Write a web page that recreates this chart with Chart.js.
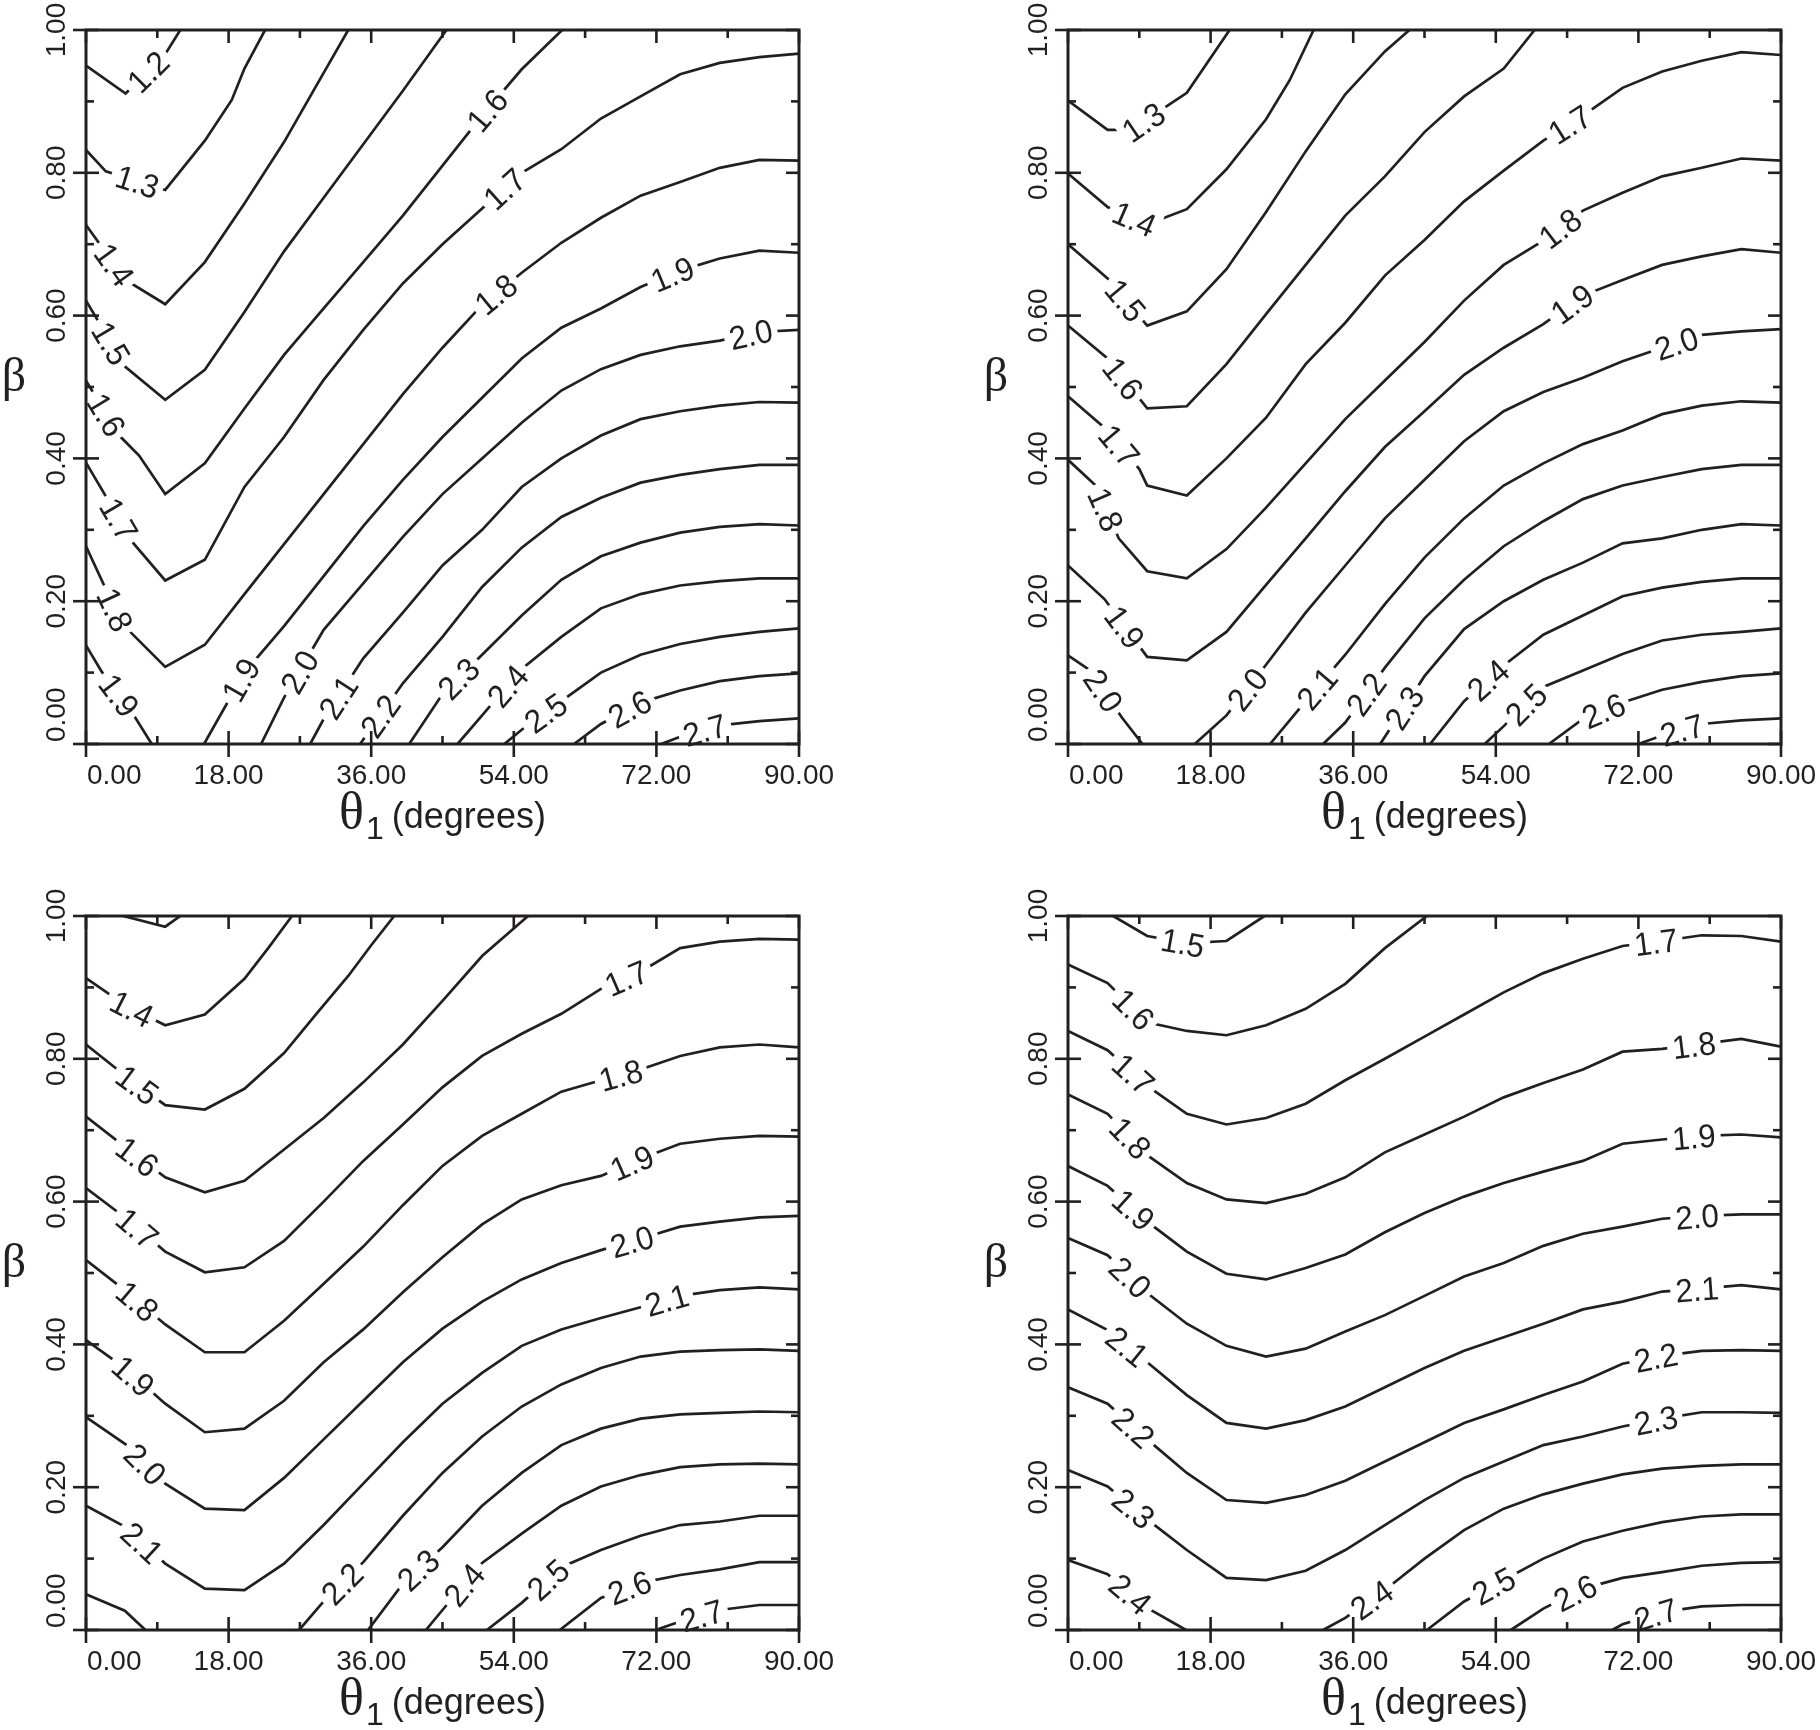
<!DOCTYPE html>
<html>
<head>
<meta charset="utf-8">
<script src="https://cdn.jsdelivr.net/npm/chart.js@4.4.1/dist/chart.umd.min.js"></script>
<style>
  body { margin: 0; background: #fff; width: 1820px; height: 1730px; position: relative; overflow: hidden; }
  canvas { position: absolute; }
</style>
</head>
<body>
<canvas id="tl" width="838" height="844" style="left:0;top:0"></canvas>
<canvas id="tr" width="838" height="844" style="left:982px;top:0"></canvas>
<canvas id="bl" width="838" height="844" style="left:0;top:886px"></canvas>
<canvas id="br" width="838" height="844" style="left:982px;top:886px"></canvas>
<script>
// axes
const xTicks = [0, 18, 36, 54, 72, 90];
const xTickLabels = ['0.00', '18.00', '36.00', '54.00', '72.00', '90.00'];
const xMinor = [9, 27, 45, 63, 81];
const yTicks = [0, 0.2, 0.4, 0.6, 0.8, 1.0];
const yTickLabels = ['0.00', '0.20', '0.40', '0.60', '0.80', '1.00'];
const yMinor = [0.1, 0.3, 0.5, 0.7, 0.9];

// contour lines: [theta1, beta] points; labels: [line index, theta1 where the label sits]
const tlLevels = ['1.2', '1.3', '1.4', '1.5', '1.6', '1.7', '1.8', '1.9', '1.9', '2.0', '2.1', '2.2', '2.3', '2.4', '2.5', '2.6', '2.7'];
const tlLines = [
  [[0, .95], [5, .911], [10, .966], [11.9, 1]],
  [[0, .832], [2.5, .802], [10, .776], [15, .845], [18.4, .902], [20, .946], [22.6, 1]],
  [[0, .727], [5, .65], [10, .616], [15, .675], [20, .757], [25, .843], [30, .94], [33.1, 1]],
  [[0, .621], [5, .528], [10, .482], [15, .524], [20, .605], [25, .69], [30, .765], [35, .84], [40, .915], [45.5, 1]],
  [[0, .509], [4.2, .432], [6.7, .404], [10, .35], [15, .393], [20, .47], [25, .545], [30, .61], [35, .675], [40, .74], [45, .81], [50, .88], [55, .945], [60.1, 1]],
  [[0, .394], [6, .281], [10, .229], [15, .258], [20, .36], [25, .43], [30, .51], [35, .58], [40, .645], [45, .70], [50, .75], [55, .80], [60, .833], [65, .876], [70, .907], [75, .938], [80, .954], [85, .962], [90, .967]],
  [[0, .277], [4.5, .169], [10, .108], [15, .139], [20, .21], [25, .28], [30, .35], [35, .42], [40, .49], [45, .555], [50, .615], [55, .66], [60, .702], [65, .737], [70, .768], [75, .787], [80, .807], [85, .818], [90, .817]],
  [[0, .138], [2, .101], [5.6, .048], [8.3, 0]],
  [[14.9, 0], [20, .10], [25, .165], [30, .235], [35, .305], [40, .37], [45, .43], [50, .485], [55, .54], [60, .583], [65, .61], [70, .64], [75, .663], [80, .68], [85, .691], [90, .688]],
  [[22.1, 0], [25, .065], [30, .16], [35, .225], [40, .29], [45, .35], [50, .40], [55, .45], [60, .495], [65, .525], [70, .545], [75, .557], [80, .565], [85, .577], [90, .58]],
  [[28.3, 0], [30, .035], [35, .12], [40, .184], [45, .25], [50, .30], [55, .36], [60, .40], [65, .432], [70, .455], [75, .466], [80, .474], [85, .479], [90, .478]],
  [[34.6, 0], [40, .085], [45, .15], [50, .22], [55, .275], [60, .318], [65, .345], [70, .366], [75, .377], [80, .385], [85, .391], [90, .391]],
  [[40.8, 0], [45, .07], [50, .125], [55, .18], [60, .23], [65, .263], [70, .282], [75, .296], [80, .304], [85, .308], [90, .306]],
  [[46.9, 0], [50, .04], [55, .105], [60, .15], [65, .19], [70, .21], [75, .222], [80, .228], [85, .232], [90, .232]],
  [[52.8, 0], [55, .02], [60, .06], [65, .10], [70, .125], [75, .14], [80, .15], [85, .157], [90, .162]],
  [[61.6, 0], [65, .028], [70, .058], [75, .075], [80, .088], [85, .095], [90, .099]],
  [[72.6, 0], [75, .01], [80, .026], [85, .032], [90, .036]]
];
const tlLabelAt = [[0, 7.8], [1, 6.5], [2, 3.6], [3, 3.2], [4, 2.6], [4, 50.6], [5, 4.2], [5, 52.8], [6, 3.7], [6, 51.7],
  [7, 4.2], [8, 19.5], [8, 74], [9, 26.9], [9, 83.9], [10, 31.8], [11, 37.1], [12, 47], [13, 53.2], [14, 58], [15, 68.6], [16, 78.1]];

const trLevels = ['1.3', '1.4', '1.5', '1.6', '1.7', '1.8', '1.9', '2.0', '2.0', '2.1', '2.2', '2.3', '2.4', '2.5', '2.6', '2.7'];
const trLines = [
  [[0, .901], [5, .86], [8, .86], [12, .89], [15, .912], [20.4, 1]],
  [[0, .799], [5, .752], [10, .728], [15, .749], [20, .805], [25, .875], [28, .93], [31, 1]],
  [[0, .70], [5, .652], [10, .586], [15, .606], [20, .665], [25, .745], [30, .83], [35, .91], [40, .97], [43.1, 1]],
  [[0, .586], [5, .54], [10, .47], [15, .473], [20, .532], [25, .602], [30, .671], [35, .74], [40, .795], [45, .857], [50, .907], [55, .946], [58.9, 1]],
  [[0, .487], [4.6, .443], [9, .385], [10, .362], [15, .348], [20, .40], [25, .457], [30, .532], [35, .59], [40, .656], [45, .706], [50, .76], [55, .803], [60, .845], [65, .88], [70, .919], [75, .942], [80, .957], [85, .969], [90, .965]],
  [[0, .398], [3.5, .362], [6.4, .288], [10, .242], [15, .232], [20, .273], [25, .331], [30, .393], [35, .455], [40, .509], [45, .563], [50, .621], [55, .671], [60, .705], [65, .747], [70, .772], [75, .795], [80, .807], [85, .82], [90, .817]],
  [[0, .25], [4.6, .203], [10, .122], [15, .117], [20, .157], [25, .223], [30, .288], [35, .354], [40, .416], [45, .466], [50, .517], [55, .555], [60, .588], [65, .628], [70, .65], [75, .671], [80, .683], [85, .693], [90, .688]],
  [[0, .124], [2.8, .103], [6.8, .037], [9.4, 0]],
  [[16, 0], [20, .04], [25, .111], [30, .184], [35, .25], [40, .316], [45, .37], [50, .424], [55, .466], [60, .493], [65, .513], [70, .536], [75, .555], [80, .573], [85, .578], [90, .581]],
  [[25.5, 0], [30, .06], [35, .125], [40, .196], [45, .261], [50, .316], [55, .362], [60, .393], [65, .42], [70, .439], [75, .462], [80, .474], [85, .48], [90, .478]],
  [[32.2, 0], [35, .03], [40, .107], [45, .176], [50, .23], [55, .277], [60, .312], [65, .343], [70, .362], [75, .374], [80, .385], [85, .391], [90, .391]],
  [[39.4, 0], [45, .095], [50, .161], [55, .2], [60, .23], [65, .254], [70, .281], [75, .288], [80, .30], [85, .308], [90, .306]],
  [[45.7, 0], [50, .06], [55, .11], [60, .153], [65, .18], [70, .207], [75, .219], [80, .227], [85, .232], [90, .232]],
  [[52.6, 0], [55, .025], [60, .08], [65, .103], [70, .126], [75, .145], [80, .153], [85, .157], [90, .162]],
  [[60.7, 0], [65, .035], [70, .058], [75, .076], [80, .087], [85, .095], [90, .099]],
  [[72, 0], [75, .012], [80, .028], [85, .033], [90, .036]]
];
const trLabelAt = [[0, 9.5], [1, 8.4], [2, 7.3], [3, 7.0], [4, 6.5], [4, 63.3], [5, 4.8], [5, 62.1], [6, 7.2], [6, 63.6],
  [7, 4.5], [8, 22.6], [8, 76.8], [9, 31.4], [10, 37.6], [11, 42.4], [12, 53], [13, 57.8], [14, 67.6], [15, 77.5]];

const blLevels = ['1.3', '1.4', '1.5', '1.6', '1.7', '1.8', '1.9', '2.0', '2.1', '2.2', '2.2', '2.3', '2.4', '2.5', '2.6', '2.7'];
const blLines = [
  [[4.7, 1], [10, .985], [11.9, 1]],
  [[0, .913], [5, .875], [10, .847], [15, .862], [20, .912], [23, .955], [26, 1]],
  [[0, .82], [5, .776], [10, .735], [15, .729], [20, .758], [25, .808], [29, .862], [33.1, .916], [36, .959], [38.9, 1]],
  [[0, .719], [5, .676], [10, .634], [15, .613], [20, .629], [25, .673], [30, .717], [35, .767], [40, .82], [45, .881], [50, .944], [55.8, 1]],
  [[0, .619], [5, .577], [10, .53], [15, .501], [20, .508], [25, .545], [30, .60], [35, .657], [40, .708], [45, .76], [50, .804], [55, .835], [60, .863], [65, .898], [70, .922], [75, .955], [80, .964], [85, .968], [90, .967]],
  [[0, .518], [5, .475], [10, .428], [15, .389], [20, .389], [25, .433], [30, .485], [35, .537], [40, .595], [45, .65], [50, .692], [55, .723], [60, .754], [65, .77], [70, .785], [75, .804], [80, .816], [85, .82], [90, .816]],
  [[0, .406], [5, .366], [10, .317], [15, .277], [20, .282], [25, .321], [30, .375], [35, .421], [40, .473], [45, .522], [50, .568], [55, .603], [60, .623], [65, .636], [70, .66], [75, .681], [80, .688], [85, .692], [90, .691]],
  [[0, .298], [5, .26], [10, .205], [15, .17], [20, .168], [25, .213], [30, .267], [35, .321], [40, .375], [45, .422], [50, .46], [55, .491], [60, .514], [65, .532], [70, .548], [75, .565], [80, .572], [85, .578], [90, .58]],
  [[0, .174], [5, .144], [10, .093], [15, .058], [20, .056], [25, .093], [30, .147], [35, .205], [40, .263], [45, .317], [50, .36], [55, .398], [60, .421], [65, .437], [70, .452], [75, .468], [80, .476], [85, .48], [90, .477]],
  [[0, .05], [4.9, .027], [7.5, 0]],
  [[26.9, 0], [30, .04], [35, .095], [40, .16], [45, .22], [50, .271], [55, .313], [60, .344], [65, .367], [70, .383], [75, .39], [80, .392], [85, .393], [90, .391]],
  [[35.6, 0], [40, .065], [45, .116], [50, .174], [55, .22], [60, .259], [65, .282], [70, .296], [75, .302], [80, .304], [85, .306], [90, .305]],
  [[42.9, 0], [45, .028], [50, .094], [55, .135], [60, .174], [65, .201], [70, .217], [75, .228], [80, .232], [85, .233], [90, .232]],
  [[50.6, 0], [55, .038], [60, .088], [65, .112], [70, .132], [75, .147], [80, .152], [85, .16], [90, .16]],
  [[59.8, 0], [65, .045], [70, .066], [75, .077], [80, .085], [85, .095], [90, .095]],
  [[71.9, 0], [75, .012], [80, .028], [85, .035], [90, .035]]
];
const blLabelAt = [[1, 5.8], [2, 6.5], [3, 6.5], [4, 6.5], [4, 68.2], [5, 6.5], [5, 67.5], [6, 6.0], [6, 68.9],
  [7, 7.5], [7, 68.9], [8, 7.1], [8, 73.3], [10, 32.3], [11, 41.9], [12, 47.7], [13, 58.3], [14, 68.6], [15, 77.7]];

const brLevels = ['1.5', '1.6', '1.7', '1.8', '1.9', '2.0', '2.1', '2.2', '2.3', '2.4', '2.4', '2.5', '2.6', '2.7'];
const brLines = [
  [[5.7, 1], [10, .972], [15, .962], [20, .965], [24.8, 1]],
  [[0, .932], [5, .906], [10, .851], [15, .839], [20, .833], [25, .847], [30, .87], [35, .905], [40, .955], [45.3, 1]],
  [[0, .839], [5, .812], [10, .762], [15, .723], [20, .708], [25, .717], [30, .737], [35, .77], [40, .80], [45, .831], [50, .862], [55, .893], [60, .92], [65, .94], [70, .958], [75, .965], [80, .973], [85, .972], [90, .964]],
  [[0, .75], [5, .723], [10, .665], [15, .626], [20, .603], [25, .598], [30, .611], [35, .634], [40, .669], [45, .694], [50, .719], [55, .746], [60, .766], [65, .785], [70, .81], [75, .814], [80, .821], [85, .828], [90, .817]],
  [[0, .65], [5, .622], [10, .572], [15, .53], [20, .499], [25, .491], [30, .507], [35, .526], [40, .557], [45, .584], [50, .607], [55, .626], [60, .642], [65, .657], [70, .681], [75, .687], [80, .692], [85, .694], [90, .69]],
  [[0, .549], [5, .525], [10, .472], [15, .429], [20, .398], [25, .383], [30, .394], [35, .418], [40, .441], [45, .468], [50, .495], [55, .514], [60, .538], [65, .555], [70, .565], [75, .576], [80, .58], [85, .582], [90, .582]],
  [[0, .449], [5, .42], [10, .375], [15, .329], [20, .29], [25, .282], [30, .294], [35, .313], [40, .34], [45, .367], [50, .391], [55, .41], [60, .429], [65, .449], [70, .46], [75, .474], [80, .478], [85, .483], [90, .477]],
  [[0, .34], [5, .317], [10, .267], [15, .22], [20, .182], [25, .178], [30, .189], [35, .209], [40, .236], [45, .263], [50, .29], [55, .309], [60, .329], [65, .348], [70, .373], [75, .384], [80, .391], [85, .392], [90, .391]],
  [[0, .224], [5, .201], [10, .155], [15, .112], [20, .073], [25, .07], [30, .083], [35, .112], [40, .147], [45, .182], [50, .213], [55, .236], [60, .259], [65, .271], [70, .285], [75, .296], [80, .305], [85, .305], [90, .304]],
  [[0, .098], [5, .078], [10, .031], [14.9, 0]],
  [[32.2, 0], [35, .017], [40, .056], [45, .10], [50, .14], [55, .17], [60, .19], [65, .205], [70, .218], [75, .226], [80, .23], [85, .232], [90, .232]],
  [[45.3, 0], [50, .04], [55, .07], [60, .10], [65, .124], [70, .139], [75, .151], [80, .159], [85, .162], [90, .162]],
  [[55.9, 0], [60, .03], [65, .058], [70, .073], [75, .081], [80, .09], [85, .094], [90, .095]],
  [[68.7, 0], [70, .008], [75, .025], [80, .033], [85, .035], [90, .035]]
];
const brLabelAt = [[0, 14.5], [1, 8.3], [2, 8.3], [2, 74.2], [3, 7.9], [3, 79], [4, 8.3], [4, 79], [5, 7.9], [5, 79.4],
  [6, 7.5], [6, 79.4], [7, 8.3], [7, 74.2], [8, 8.3], [8, 74.2], [9, 7.9], [10, 38.3], [11, 53.7], [12, 64], [13, 74.2]];

const INK = '#231f20';
const SANS = '"Liberation Sans", Arial, Helvetica, sans-serif';
const SERIF = '"Liberation Serif", "Times New Roman", serif';
const LABEL_SIZE = 33;
const LABEL_SQUEEZE = 0.95;

function stroke(ctx, x0, y0, x1, y1) {
  ctx.beginPath(); ctx.moveTo(x0, y0); ctx.lineTo(x1, y1); ctx.stroke();
}

const contourPlot = {
  id: 'contourPlot',
  afterDatasetsDraw(chart, args, opts) {
    const { ctx, chartArea: a } = chart;
    const xs = chart.scales.x, ys = chart.scales.y;

    // contour labels, sitting on their line
    ctx.save();
    ctx.font = LABEL_SIZE + 'px ' + SANS;
    opts.labelAt.forEach(([li, xv]) => {
      const pts = opts.lines[li];
      let k = 0;
      while (k < pts.length - 2 && pts[k + 1][0] < xv) k++;
      const p0 = pts[k], p1 = pts[k + 1];
      const t = (xv - p0[0]) / (p1[0] - p0[0]);
      const yv = p0[1] + t * (p1[1] - p0[1]);
      const px = xs.getPixelForValue(xv), py = ys.getPixelForValue(yv);
      const ang = Math.atan2(ys.getPixelForValue(p1[1]) - ys.getPixelForValue(p0[1]),
                             xs.getPixelForValue(p1[0]) - xs.getPixelForValue(p0[0]));
      const txt = opts.levels[li];
      const w = ctx.measureText(txt).width * LABEL_SQUEEZE;
      const h = LABEL_SIZE * 0.72;
      ctx.save();
      ctx.translate(px, py);
      ctx.rotate(ang);
      ctx.fillStyle = '#fff';
      ctx.fillRect(-w / 2 - 5, -h / 2 - 2, w + 10, h + 4);
      ctx.scale(LABEL_SQUEEZE, 1);
      ctx.fillStyle = INK;
      ctx.textAlign = 'center';
      ctx.textBaseline = 'alphabetic';
      ctx.fillText(txt, 0, h / 2);
      ctx.restore();
    });
    ctx.restore();

    // frame and ticks
    ctx.save();
    ctx.strokeStyle = INK;
    ctx.lineCap = 'square';
    ctx.lineWidth = 3;
    ctx.strokeRect(a.left, a.top, a.right - a.left, a.bottom - a.top);
    ctx.lineWidth = 2.6;
    ctx.lineCap = 'butt';
    xTicks.forEach(v => {
      const p = xs.getPixelForValue(v);
      stroke(ctx, p, a.bottom - 13, p, a.bottom + 13);
      stroke(ctx, p, a.top, p, a.top + 13);
    });
    xMinor.forEach(v => {
      const p = xs.getPixelForValue(v);
      stroke(ctx, p, a.bottom, p, a.bottom - 8);
      stroke(ctx, p, a.top, p, a.top + 8);
    });
    yTicks.forEach(v => {
      const p = ys.getPixelForValue(v);
      stroke(ctx, a.left - 13, p, a.left + 13, p);
      stroke(ctx, a.right - 13, p, a.right, p);
    });
    yMinor.forEach(v => {
      const p = ys.getPixelForValue(v);
      stroke(ctx, a.left, p, a.left + 8, p);
      stroke(ctx, a.right, p, a.right - 8, p);
    });

    // tick labels
    ctx.fillStyle = INK;
    ctx.font = '28px ' + SANS;
    ctx.textBaseline = 'alphabetic';
    xTicks.forEach((v, i) => {
      const p = xs.getPixelForValue(v);
      ctx.textAlign = i === 0 ? 'left' : 'center';
      ctx.fillText(xTickLabels[i], i === 0 ? p + 1 : p, a.bottom + 40);
    });
    yTicks.forEach((v, i) => {
      const p = ys.getPixelForValue(v);
      ctx.save();
      ctx.translate(a.left - 21, i === 0 ? p - 2 : p);
      ctx.rotate(-Math.PI / 2);
      ctx.textAlign = i === 0 ? 'left' : 'center';
      ctx.fillText(yTickLabels[i], 0, 0);
      ctx.restore();
    });

    // axis titles
    ctx.font = '48px ' + SERIF;
    ctx.textAlign = 'center';
    ctx.fillText('\u03B2', a.left - 72, (a.top + a.bottom) / 2 + 4);

    const base = a.bottom + 84;
    ctx.textAlign = 'left';
    ctx.font = '52px ' + SERIF;
    const wT = ctx.measureText('\u03B8').width;
    ctx.font = '32px ' + SANS;
    const w1 = ctx.measureText('1').width;
    ctx.font = '36px ' + SANS;
    const wD = ctx.measureText('(degrees)').width;
    const gap = 8;
    let cx = (a.left + a.right) / 2 - (wT + 2 + w1 + gap + wD) / 2;
    ctx.font = '52px ' + SERIF;
    ctx.fillText('\u03B8', cx, base);
    cx += wT + 2;
    ctx.font = '32px ' + SANS;
    ctx.fillText('1', cx, base + 11);
    cx += w1 + gap;
    ctx.font = '36px ' + SANS;
    ctx.fillText('(degrees)', cx, base);
    ctx.restore();
  }
};

function makePanel(id, levels, lines, labelAt) {
  new Chart(document.getElementById(id), {
    type: 'line',
    data: {
      datasets: lines.map((pts, i) => ({
        label: levels[i],
        data: pts.map(p => ({ x: p[0], y: p[1] })),
        borderColor: INK,
        borderWidth: 2.7,
        pointRadius: 0,
        tension: 0,
        fill: false
      }))
    },
    options: {
      responsive: false,
      animation: false,
      devicePixelRatio: 1,
      layout: { padding: { left: 86, top: 30, right: 39, bottom: 100 } },
      scales: {
        x: { type: 'linear', min: 0, max: 90, display: false },
        y: { type: 'linear', min: 0, max: 1, display: false }
      },
      plugins: {
        legend: { display: false },
        tooltip: { enabled: false },
        contourPlot: { levels, lines, labelAt }
      }
    },
    plugins: [contourPlot]
  });
}

makePanel('tl', tlLevels, tlLines, tlLabelAt);
makePanel('tr', trLevels, trLines, trLabelAt);
makePanel('bl', blLevels, blLines, blLabelAt);
makePanel('br', brLevels, brLines, brLabelAt);
</script>
</body>
</html>
